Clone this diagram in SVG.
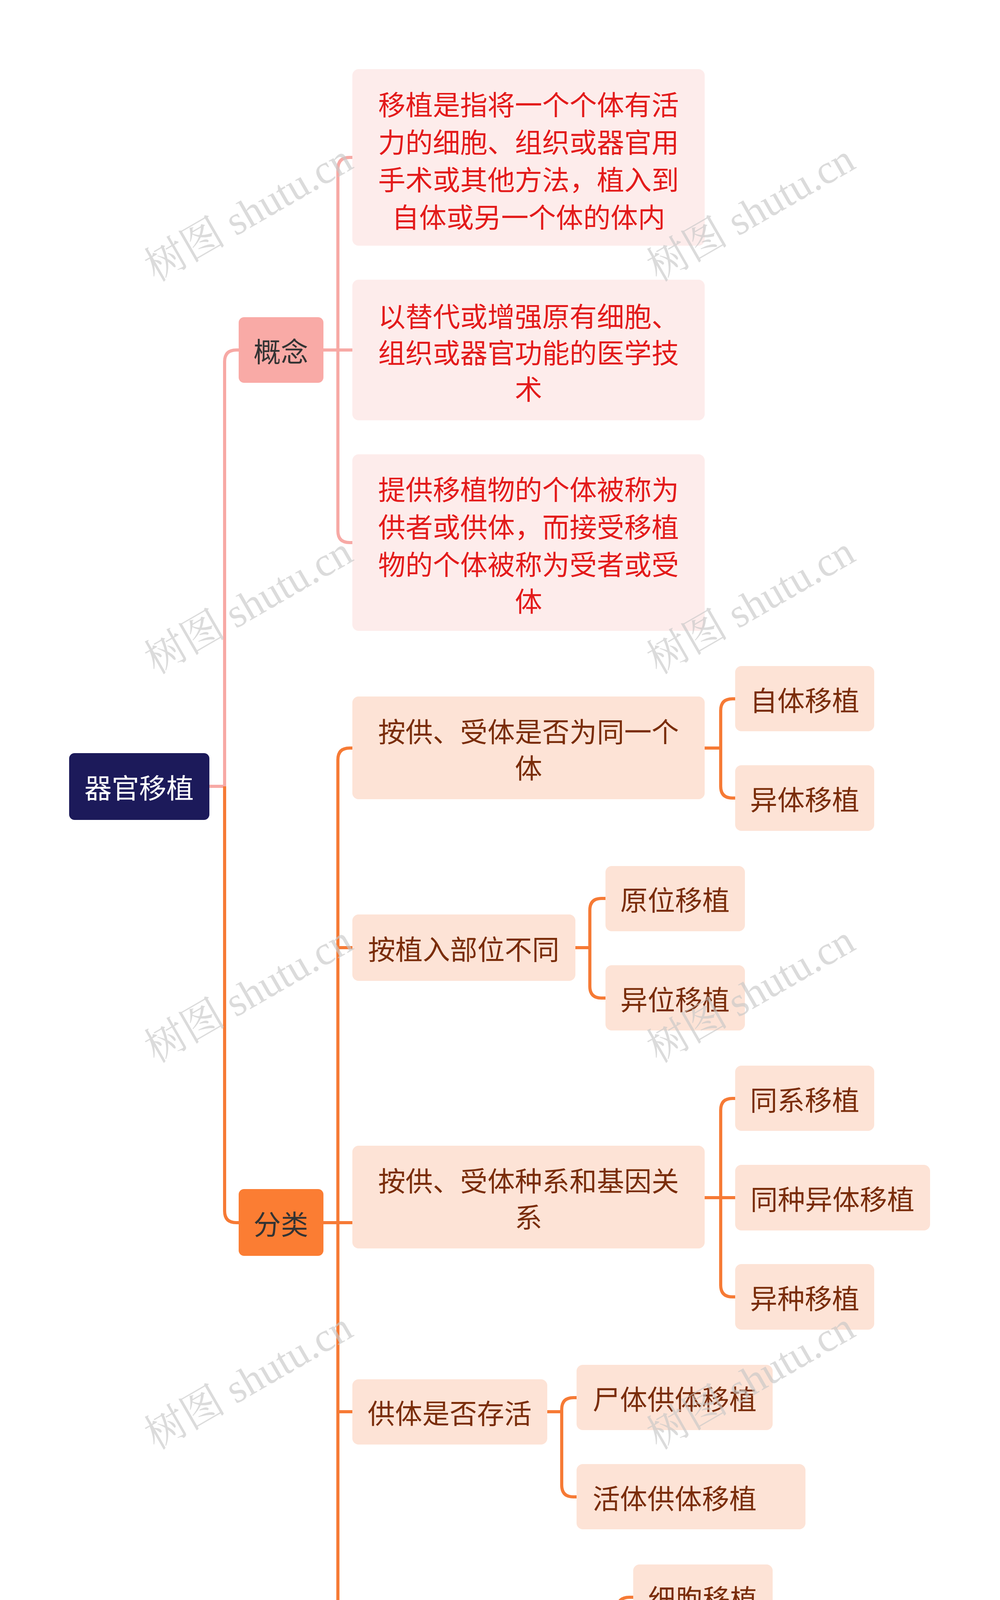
<svg xmlns="http://www.w3.org/2000/svg" width="2560" height="4859" viewBox="0 0 2560 4859">
<style>
text{font-family:"Noto Sans CJK SC","Noto Sans",sans-serif;font-size:70px;text-anchor:middle;dominant-baseline:central}
.c rect{fill:#fdeceb}.c text{fill:#e31b1b}
.k rect{fill:#fde3d6}.k text{fill:#7a2d0a}
.ln{fill:none;stroke-width:8;stroke-linejoin:round}
.p{stroke:#f7a9a5}.o{stroke:#f67a35}
.wm text{font-family:"Liberation Serif","Noto Serif CJK SC",serif;font-size:105px;fill:#c8c8c8;opacity:0.65}
</style>
<rect width="2560" height="4859" fill="#fff"/>
<g id="connectors">
<path class="ln p" d="M536 2013H575V926Q575 896 605 896H611"/>
<path class="ln o" d="M575 2013V3100Q575 3130 605 3130H611"/>
<path class="ln p" d="M828 896H902M865 896V433Q865 403 895 403H902M865 896V1359Q865 1389 895 1389H902"/>
<path class="ln o" d="M828 3130H902M865 3130V1945Q865 1915 895 1915H902M865 2426H902M865 3130V4313Q865 4343 895 4343H902M865 3614H902"/>
<path class="ln o" d="M1804 1915H1845M1845 1915V1819Q1845 1789 1875 1789H1882M1845 1915V2013Q1845 2043 1875 2043H1882"/>
<path class="ln o" d="M1473 2426H1510M1510 2426V2330Q1510 2300 1540 2300H1550M1510 2426V2525Q1510 2555 1540 2555H1550"/>
<path class="ln o" d="M1804 3066H1882M1845 3066V2842Q1845 2812 1875 2812H1882M1845 3066V3290Q1845 3320 1875 3320H1882"/>
<path class="ln o" d="M1401 3614H1438M1438 3614V3608Q1438 3578 1468 3578H1476M1438 3614V3802Q1438 3832 1468 3832H1476"/>
<path class="ln o" d="M1544 4343H1621M1581 4343V4119Q1581 4089 1611 4089H1621M1581 4343V4568Q1581 4598 1611 4598H1621"/>
</g>
<g id="root"><rect x="177" y="1928" width="359" height="171" rx="14" fill="#1c1a5a"/><text x="356" y="2013" fill="#fff">器官移植</text></g>
<g id="gainian"><rect x="611" y="812" width="217" height="168" rx="14" fill="#f9aaa6"/><text x="719" y="896" fill="#333">概念</text></g>
<g id="fenlei"><rect x="611" y="3044" width="217" height="171" rx="14" fill="#fb7d33"/><text x="719" y="3130" fill="#333">分类</text></g>
<g id="c1" class="c"><rect x="902" y="177" width="902" height="452" rx="16"/><text x="1353" y="264">移植是指将一个个体有活</text><text x="1353" y="360">力的细胞、组织或器官用</text><text x="1353" y="456">手术或其他方法，植入到</text><text x="1353" y="552">自体或另一个体的体内</text></g>
<g id="c2" class="c"><rect x="902" y="716" width="902" height="360" rx="16"/><text x="1353" y="806">以替代或增强原有细胞、</text><text x="1353" y="899">组织或器官功能的医学技</text><text x="1353" y="992">术</text></g>
<g id="c3" class="c"><rect x="902" y="1163" width="902" height="452" rx="16"/><text x="1353" y="1249">提供移植物的个体被称为</text><text x="1353" y="1345">供者或供体，而接受移植</text><text x="1353" y="1441">物的个体被称为受者或受</text><text x="1353" y="1535">体</text></g>
<g id="k1" class="k"><rect x="902" y="1783" width="902" height="263" rx="16"/><text x="1353" y="1869">按供、受体是否为同一个</text><text x="1353" y="1962">体</text></g>
<g id="k2" class="k"><rect x="902" y="2341" width="571" height="170" rx="16"/><text x="1187" y="2426">按植入部位不同</text></g>
<g id="k3" class="k"><rect x="902" y="2933" width="902" height="263" rx="16"/><text x="1353" y="3019">按供、受体种系和基因关</text><text x="1353" y="3112">系</text></g>
<g id="k4" class="k"><rect x="902" y="3531" width="499" height="167" rx="16"/><text x="1151" y="3614">供体是否存活</text></g>
<g id="k5" class="k"><rect x="902" y="4259" width="642" height="168" rx="16"/><text x="1223" y="4343">按植入移植物不同</text></g>
<g id="l1" class="k"><rect x="1882" y="1705" width="356" height="167" rx="16"/><text x="2060" y="1789">自体移植</text></g>
<g id="l2" class="k"><rect x="1882" y="1959" width="356" height="168" rx="16"/><text x="2060" y="2043">异体移植</text></g>
<g id="l3" class="k"><rect x="1550" y="2217" width="357" height="167" rx="16"/><text x="1728" y="2300">原位移植</text></g>
<g id="l4" class="k"><rect x="1550" y="2471" width="357" height="167" rx="16"/><text x="1728" y="2555">异位移植</text></g>
<g id="l5" class="k"><rect x="1882" y="2728" width="356" height="167" rx="16"/><text x="2060" y="2812">同系移植</text></g>
<g id="l6" class="k"><rect x="1882" y="2982" width="499" height="168" rx="16"/><text x="2131" y="3066">同种异体移植</text></g>
<g id="l7" class="k"><rect x="1882" y="3236" width="356" height="168" rx="16"/><text x="2060" y="3320">异种移植</text></g>
<g id="l8" class="k"><rect x="1476" y="3494" width="502" height="167" rx="16"/><text x="1727" y="3578">尸体供体移植</text></g>
<g id="l9" class="k"><rect x="1476" y="3748" width="586" height="167" rx="16"/><text x="1727" y="3832">活体供体移植</text></g>
<g id="l10" class="k"><rect x="1621" y="4005" width="357" height="168" rx="16"/><text x="1799" y="4089">细胞移植</text></g>
<g id="l11" class="k"><rect x="1621" y="4259" width="357" height="168" rx="16"/><text x="1799" y="4343">组织移植</text></g>
<g id="l12" class="k"><rect x="1621" y="4514" width="357" height="167" rx="16"/><text x="1799" y="4598">器官移植</text></g>
<g id="watermarks" class="wm">
<text transform="translate(636,545) rotate(-30)">树图 shutu.cn</text>
<text transform="translate(1922,545) rotate(-30)">树图 shutu.cn</text>
<text transform="translate(636,1550) rotate(-30)">树图 shutu.cn</text>
<text transform="translate(1922,1550) rotate(-30)">树图 shutu.cn</text>
<text transform="translate(636,2545) rotate(-30)">树图 shutu.cn</text>
<text transform="translate(1922,2545) rotate(-30)">树图 shutu.cn</text>
<text transform="translate(636,3535) rotate(-30)">树图 shutu.cn</text>
<text transform="translate(1922,3535) rotate(-30)">树图 shutu.cn</text>
<text transform="translate(636,4540) rotate(-30)">树图 shutu.cn</text>
<text transform="translate(1922,4540) rotate(-30)">树图 shutu.cn</text>
</g>
</svg>
